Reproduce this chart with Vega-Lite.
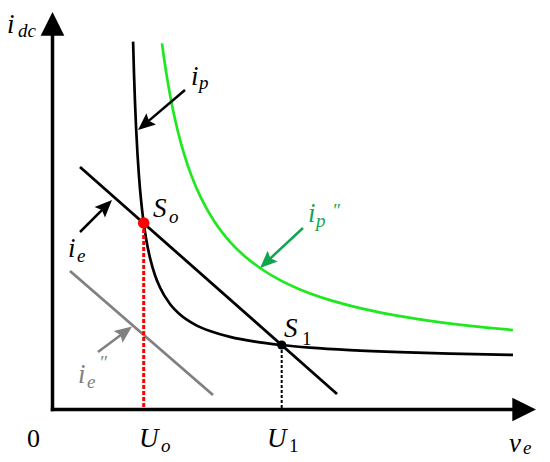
{
  "$schema": "https://vega.github.io/schema/vega-lite/v6.json",
  "width": 550,
  "height": 462,
  "padding": 0,
  "autosize": {"type": "none"},
  "background": "white",
  "config": {"view": {"stroke": null}},
  "datasets": {
    "curves": [
      {"s": "base", "x": 80.6, "y": 367.9}, {"s": "base", "x": 81.5, "y": 335.9}, {"s": "base", "x": 82.5, "y": 307.1},
      {"s": "base", "x": 83.5, "y": 283.5}, {"s": "base", "x": 85, "y": 255.3}, {"s": "base", "x": 86.5, "y": 233.0},
      {"s": "base", "x": 88.5, "y": 209.9}, {"s": "base", "x": 90.5, "y": 191.9}, {"s": "base", "x": 93.5, "y": 171.3},
      {"s": "base", "x": 97.5, "y": 151.6}, {"s": "base", "x": 102.5, "y": 134.3}, {"s": "base", "x": 107.5, "y": 122.0},
      {"s": "base", "x": 117.5, "y": 105.5}, {"s": "base", "x": 127.5, "y": 95.0}, {"s": "base", "x": 142.5, "y": 84.9},
      {"s": "base", "x": 157.5, "y": 78.4}, {"s": "base", "x": 177.5, "y": 72.6}, {"s": "base", "x": 202.5, "y": 67.8},
      {"s": "base", "x": 228.5, "y": 64.5}, {"s": "base", "x": 257.5, "y": 61.9}, {"s": "base", "x": 297.5, "y": 59.4},
      {"s": "base", "x": 347.5, "y": 57.3}, {"s": "base", "x": 397.5, "y": 55.9}, {"s": "base", "x": 460.5, "y": 54.6},
      {"s": "ip2", "x": 109.5, "y": 366.1}, {"s": "ip2", "x": 111.5, "y": 351.5}, {"s": "ip2", "x": 114.5, "y": 332.0},
      {"s": "ip2", "x": 117.5, "y": 314.8}, {"s": "ip2", "x": 122.5, "y": 290.3}, {"s": "ip2", "x": 128.5, "y": 266.2},
      {"s": "ip2", "x": 135.5, "y": 243.4}, {"s": "ip2", "x": 143.5, "y": 222.5}, {"s": "ip2", "x": 152.5, "y": 203.8},
      {"s": "ip2", "x": 162.5, "y": 187.1}, {"s": "ip2", "x": 177.5, "y": 167.7}, {"s": "ip2", "x": 192.5, "y": 153.0},
      {"s": "ip2", "x": 207.5, "y": 141.5}, {"s": "ip2", "x": 227.5, "y": 129.4}, {"s": "ip2", "x": 247.5, "y": 120.1},
      {"s": "ip2", "x": 277.5, "y": 109.4}, {"s": "ip2", "x": 307.5, "y": 101.4}, {"s": "ip2", "x": 337.5, "y": 95.1},
      {"s": "ip2", "x": 377.5, "y": 88.7}, {"s": "ip2", "x": 417.5, "y": 83.7}, {"s": "ip2", "x": 460.5, "y": 79.5}
    ],
    "lines": [
      {"s": "base", "x": 27.5, "y": 242.5, "x2": 284.5, "y2": 15.5},
      {"s": "ie2", "x": 17.5, "y": 138.5, "x2": 160.5, "y2": 14.5}
    ],
    "drops": [
      {"s": "So", "x": 91.2, "y": 186.5, "x2": 91.2, "y2": 0},
      {"s": "base", "x": 229.2, "y": 64.5, "x2": 229.2, "y2": 0}
    ],
    "points": [
      {"s": "So", "x": 91.2, "y": 186.5},
      {"s": "base", "x": 229.2, "y": 64.5}
    ],
    "axes": [
      {"s": "base", "tx": 0, "ty": -1.75, "x": 0, "y": 397.5},
      {"s": "base", "tx": -1.75, "ty": 0, "x": 483.5, "y": 0}
    ],
    "pointers": [
      {"s": "base", "tx": 132.5, "ty": 319.5, "x": 85.5, "y": 279.5},
      {"s": "base", "tx": 27.5, "ty": 177.5, "x": 59.5, "y": 209.5},
      {"s": "ip2note", "tx": 250.5, "ty": 181.5, "x": 207.5, "y": 141.5},
      {"s": "ie2", "tx": 45.5, "ty": 57.5, "x": 79.5, "y": 83}
    ],
    "labels": [
      {"t": "i", "s": "base", "k": "main", "up": false, "x": -45.5, "y": 376.5},
      {"t": "dc", "s": "base", "k": "sub", "up": false, "x": -34.5, "y": 372.5},
      {"t": "0", "s": "base", "k": "main", "up": true, "x": -25.5, "y": -37.5},
      {"t": "U", "s": "base", "k": "main", "up": false, "x": 86.5, "y": -37.5},
      {"t": "o", "s": "base", "k": "sub", "up": false, "x": 108.5, "y": -42.5},
      {"t": "U", "s": "base", "k": "main", "up": false, "x": 214.5, "y": -37.5},
      {"t": "1", "s": "base", "k": "sub", "up": true, "x": 236.5, "y": -42.5},
      {"t": "v", "s": "base", "k": "main", "up": false, "x": 456.5, "y": -42.5},
      {"t": "e", "s": "base", "k": "sub", "up": false, "x": 470.5, "y": -44.5},
      {"t": "S", "s": "base", "k": "main", "up": false, "x": 100.5, "y": 192.5},
      {"t": "o", "s": "base", "k": "sub", "up": false, "x": 116.5, "y": 186.5},
      {"t": "S", "s": "base", "k": "main", "up": false, "x": 231.5, "y": 72.5},
      {"t": "1", "s": "base", "k": "sub", "up": true, "x": 249.5, "y": 64.5},
      {"t": "i", "s": "base", "k": "main", "up": false, "x": 138.5, "y": 324.5},
      {"t": "p", "s": "base", "k": "sub", "up": false, "x": 146.5, "y": 320.5},
      {"t": "i", "s": "base", "k": "main", "up": false, "x": 15.5, "y": 152.5},
      {"t": "e", "s": "base", "k": "sub", "up": false, "x": 24.5, "y": 147.5},
      {"t": "i", "s": "ip2note", "k": "main", "up": false, "x": 255.5, "y": 187.5},
      {"t": "p", "s": "ip2note", "k": "sub", "up": false, "x": 263.5, "y": 182.5},
      {"t": "″", "s": "ip2note", "k": "sub", "up": false, "x": 279.5, "y": 192.5},
      {"t": "i", "s": "ie2", "k": "main", "up": false, "x": 25.5, "y": 26.5},
      {"t": "e", "s": "ie2", "k": "sub", "up": false, "x": 34.5, "y": 21.5},
      {"t": "″", "s": "ie2", "k": "sub", "up": false, "x": 46.5, "y": 40.5}
    ]
  },
  "resolve": {"scale": {"color": "shared"}},
  "layer": [
    {
      "data": {"name": "curves"},
      "mark": {"type": "line", "interpolate": "monotone", "strokeWidth": 2.7},
      "encoding": {
        "x": {"field": "x", "type": "quantitative", "scale": {"domain": [-52.5, 497.5], "nice": false, "zero": false}, "axis": null},
        "y": {"field": "y", "type": "quantitative", "scale": {"domain": [-52.5, 409.5], "nice": false, "zero": false}, "axis": null},
        "color": {"field": "s", "type": "nominal", "scale": {"domain": ["base", "ip2", "ip2note", "ie2", "So"], "range": ["#000000", "#1ee81e", "#10a54f", "#808080", "#ff0000"]}, "legend": null}
      }
    },
    {
      "data": {"name": "lines"},
      "mark": {"type": "rule", "strokeWidth": 2.8},
      "encoding": {
        "x": {"field": "x", "type": "quantitative", "scale": {"domain": [-52.5, 497.5], "nice": false, "zero": false}, "axis": null},
        "y": {"field": "y", "type": "quantitative", "scale": {"domain": [-52.5, 409.5], "nice": false, "zero": false}, "axis": null},
        "x2": {"field": "x2"},
        "y2": {"field": "y2"},
        "color": {"field": "s", "type": "nominal", "legend": null}
      }
    },
    {
      "data": {"name": "drops"},
      "transform": [{"filter": "datum.s == 'So'"}],
      "mark": {"type": "rule", "strokeWidth": 3, "strokeDash": [4, 2]},
      "encoding": {
        "x": {"field": "x", "type": "quantitative", "scale": {"domain": [-52.5, 497.5], "nice": false, "zero": false}, "axis": null},
        "y": {"field": "y", "type": "quantitative", "scale": {"domain": [-52.5, 409.5], "nice": false, "zero": false}, "axis": null},
        "x2": {"field": "x2"},
        "y2": {"field": "y2"},
        "color": {"field": "s", "type": "nominal", "legend": null}
      }
    },
    {
      "data": {"name": "drops"},
      "transform": [{"filter": "datum.s == 'base'"}],
      "mark": {"type": "rule", "strokeWidth": 2, "strokeDash": [3, 2]},
      "encoding": {
        "x": {"field": "x", "type": "quantitative", "scale": {"domain": [-52.5, 497.5], "nice": false, "zero": false}, "axis": null},
        "y": {"field": "y", "type": "quantitative", "scale": {"domain": [-52.5, 409.5], "nice": false, "zero": false}, "axis": null},
        "x2": {"field": "x2"},
        "y2": {"field": "y2"},
        "color": {"field": "s", "type": "nominal", "legend": null}
      }
    },
    {
      "data": {"name": "axes"},
      "transform": [
        {"calculate": "sqrt(pow(datum.x - datum.tx, 2) + pow(datum.y - datum.ty, 2))", "as": "len"},
        {"calculate": "datum.x - 14 * (datum.x - datum.tx) / datum.len", "as": "ex"},
        {"calculate": "datum.y - 14 * (datum.y - datum.ty) / datum.len", "as": "ey"}
      ],
      "mark": {"type": "rule", "strokeWidth": 3.5},
      "encoding": {
        "x": {"field": "tx", "type": "quantitative", "scale": {"domain": [-52.5, 497.5], "nice": false, "zero": false}, "axis": null},
        "y": {"field": "ty", "type": "quantitative", "scale": {"domain": [-52.5, 409.5], "nice": false, "zero": false}, "axis": null},
        "x2": {"field": "ex"},
        "y2": {"field": "ey"},
        "color": {"field": "s", "type": "nominal", "legend": null}
      }
    },
    {
      "data": {"name": "axes"},
      "transform": [
        {"calculate": "atan2(datum.x - datum.tx, datum.y - datum.ty) * 180 / PI", "as": "ang"}
      ],
      "mark": {"type": "point", "shape": "M0,0 L-1,2 L1,2 Z", "filled": true, "opacity": 1, "size": 560, "strokeWidth": 0},
      "encoding": {
        "x": {"field": "x", "type": "quantitative", "scale": {"domain": [-52.5, 497.5], "nice": false, "zero": false}, "axis": null},
        "y": {"field": "y", "type": "quantitative", "scale": {"domain": [-52.5, 409.5], "nice": false, "zero": false}, "axis": null},
        "angle": {"field": "ang", "type": "quantitative", "scale": null},
        "color": {"field": "s", "type": "nominal", "legend": null}
      }
    },
    {
      "data": {"name": "pointers"},
      "transform": [
        {"calculate": "sqrt(pow(datum.x - datum.tx, 2) + pow(datum.y - datum.ty, 2))", "as": "len"},
        {"calculate": "datum.x - 9 * (datum.x - datum.tx) / datum.len", "as": "ex"},
        {"calculate": "datum.y - 9 * (datum.y - datum.ty) / datum.len", "as": "ey"}
      ],
      "mark": {"type": "rule", "strokeWidth": 2.5},
      "encoding": {
        "x": {"field": "tx", "type": "quantitative", "scale": {"domain": [-52.5, 497.5], "nice": false, "zero": false}, "axis": null},
        "y": {"field": "ty", "type": "quantitative", "scale": {"domain": [-52.5, 409.5], "nice": false, "zero": false}, "axis": null},
        "x2": {"field": "ex"},
        "y2": {"field": "ey"},
        "color": {"field": "s", "type": "nominal", "legend": null}
      }
    },
    {
      "data": {"name": "pointers"},
      "transform": [
        {"calculate": "atan2(datum.x - datum.tx, datum.y - datum.ty) * 180 / PI", "as": "ang"}
      ],
      "mark": {"type": "point", "shape": "M0,0 L-0.85,2 L0,1.65 L0.85,2 Z", "filled": true, "opacity": 1, "size": 300, "strokeWidth": 0},
      "encoding": {
        "x": {"field": "x", "type": "quantitative", "scale": {"domain": [-52.5, 497.5], "nice": false, "zero": false}, "axis": null},
        "y": {"field": "y", "type": "quantitative", "scale": {"domain": [-52.5, 409.5], "nice": false, "zero": false}, "axis": null},
        "angle": {"field": "ang", "type": "quantitative", "scale": null},
        "color": {"field": "s", "type": "nominal", "legend": null}
      }
    },
    {
      "data": {"name": "points"},
      "transform": [{"filter": "datum.s == 'So'"}],
      "mark": {"type": "point", "shape": "circle", "filled": true, "opacity": 1, "size": 135},
      "encoding": {
        "x": {"field": "x", "type": "quantitative", "scale": {"domain": [-52.5, 497.5], "nice": false, "zero": false}, "axis": null},
        "y": {"field": "y", "type": "quantitative", "scale": {"domain": [-52.5, 409.5], "nice": false, "zero": false}, "axis": null},
        "color": {"field": "s", "type": "nominal", "legend": null}
      }
    },
    {
      "data": {"name": "points"},
      "transform": [{"filter": "datum.s == 'base'"}],
      "mark": {"type": "point", "shape": "circle", "filled": true, "opacity": 1, "size": 85},
      "encoding": {
        "x": {"field": "x", "type": "quantitative", "scale": {"domain": [-52.5, 497.5], "nice": false, "zero": false}, "axis": null},
        "y": {"field": "y", "type": "quantitative", "scale": {"domain": [-52.5, 409.5], "nice": false, "zero": false}, "axis": null},
        "color": {"field": "s", "type": "nominal", "legend": null}
      }
    },
    {
      "data": {"name": "labels"},
      "transform": [{"filter": "!datum.up && datum.k == 'main'"}],
      "mark": {"type": "text", "font": "Times New Roman, Liberation Serif, serif", "fontStyle": "italic", "fontSize": 27, "align": "left", "baseline": "alphabetic"},
      "encoding": {
        "x": {"field": "x", "type": "quantitative", "scale": {"domain": [-52.5, 497.5], "nice": false, "zero": false}, "axis": null},
        "y": {"field": "y", "type": "quantitative", "scale": {"domain": [-52.5, 409.5], "nice": false, "zero": false}, "axis": null},
        "text": {"field": "t"},
        "color": {"field": "s", "type": "nominal", "legend": null}
      }
    },
    {
      "data": {"name": "labels"},
      "transform": [{"filter": "!datum.up && datum.k == 'sub'"}],
      "mark": {"type": "text", "font": "Times New Roman, Liberation Serif, serif", "fontStyle": "italic", "fontSize": 19, "align": "left", "baseline": "alphabetic"},
      "encoding": {
        "x": {"field": "x", "type": "quantitative", "scale": {"domain": [-52.5, 497.5], "nice": false, "zero": false}, "axis": null},
        "y": {"field": "y", "type": "quantitative", "scale": {"domain": [-52.5, 409.5], "nice": false, "zero": false}, "axis": null},
        "text": {"field": "t"},
        "color": {"field": "s", "type": "nominal", "legend": null}
      }
    },
    {
      "data": {"name": "labels"},
      "transform": [{"filter": "datum.up && datum.k == 'main'"}],
      "mark": {"type": "text", "font": "Times New Roman, Liberation Serif, serif", "fontSize": 26, "align": "left", "baseline": "alphabetic"},
      "encoding": {
        "x": {"field": "x", "type": "quantitative", "scale": {"domain": [-52.5, 497.5], "nice": false, "zero": false}, "axis": null},
        "y": {"field": "y", "type": "quantitative", "scale": {"domain": [-52.5, 409.5], "nice": false, "zero": false}, "axis": null},
        "text": {"field": "t"},
        "color": {"field": "s", "type": "nominal", "legend": null}
      }
    },
    {
      "data": {"name": "labels"},
      "transform": [{"filter": "datum.up && datum.k == 'sub'"}],
      "mark": {"type": "text", "font": "Times New Roman, Liberation Serif, serif", "fontSize": 19, "align": "left", "baseline": "alphabetic"},
      "encoding": {
        "x": {"field": "x", "type": "quantitative", "scale": {"domain": [-52.5, 497.5], "nice": false, "zero": false}, "axis": null},
        "y": {"field": "y", "type": "quantitative", "scale": {"domain": [-52.5, 409.5], "nice": false, "zero": false}, "axis": null},
        "text": {"field": "t"},
        "color": {"field": "s", "type": "nominal", "legend": null}
      }
    }
  ]
}
